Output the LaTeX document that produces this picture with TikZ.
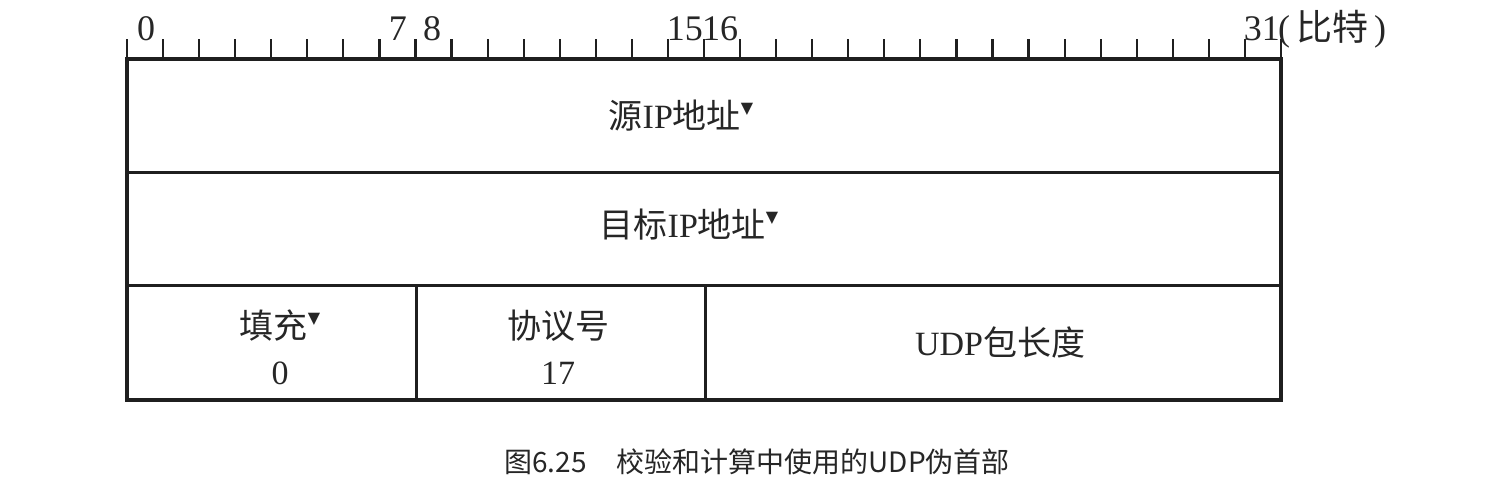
\documentclass[tikz,border=0pt]{standalone}
\usepackage{fontspec}
\setmainfont{Liberation Serif}
\newfontfamily\cjk{Noto Sans CJK SC}
\newfontfamily\symfont{DejaVu Sans}
\newcommand{\zh}[1]{{\cjk #1}}
\newcommand{\tri}{{\symfont\fontsize{16}{16}\selectfont\raisebox{15pt}{▼}}}
\begin{document}
\begin{tikzpicture}[x=1pt,y=-1pt,
  tickline/.style={line width=2.2pt,color=black!88},
  frame/.style={line width=4.5pt,color=black!88},
  inner/.style={line width=3pt,color=black!88},
  ruler/.style={inner sep=0pt,font=\fontsize{36}{38}\selectfont,text=black!85},
  lbl/.style={inner sep=0pt,align=center,font=\fontsize{34}{46}\selectfont,text=black!85},
  captext/.style={inner sep=0pt,font=\cjk\fontsize{28}{30}\selectfont,text=black!85}]
\useasboundingbox (0,0) rectangle (1499,477);
% ticks
\foreach \i in {0,...,32} {
  \draw[tickline] ({127+\i*36.0625},39) -- ({127+\i*36.0625},59);
}
% frame and rows
\draw[frame] (127,59) rectangle (1281,400);
\draw[inner] (127,172) -- (1281,172);
\draw[inner] (127,285) -- (1281,285);
\draw[inner] (416.5,285) -- (416.5,400);
\draw[inner] (705.5,285) -- (705.5,400);
% ruler labels
\node[ruler,anchor=base] (b0) at (146,40) {0};
\node[ruler,anchor=base east] (b7) at (407,40) {7};
\node[ruler,anchor=base west] (b8) at (423,40) {8};
\node[ruler,anchor=base east] (b15) at (703,40) {15};
\node[ruler,anchor=base west] (b16) at (702,40) {16};
\node[ruler,anchor=base east] (b31) at (1280,40) {31};
\node[ruler,anchor=base west] (unit) at (1278,40) {(\hspace{6pt}\zh{比特}\hspace{6pt})};
% fields
\node[lbl] (src) at (681,116) {\zh{源}IP\zh{地址}\tri};
\node[lbl] (dst) at (689,225) {\zh{目标}IP\zh{地址}\tri};
\node[lbl] (pad) at (280,347) {\zh{填充}\tri\\0};
\node[lbl] (proto) at (558,347) {\zh{协议号}\\17};
\node[lbl] (len) at (1000,342) {UDP\zh{包长度}};
% caption
\node[captext] (caption) at (757,462) {图6.25\hspace{30pt}校验和计算中使用的UDP伪首部};
\end{tikzpicture}
\end{document}
